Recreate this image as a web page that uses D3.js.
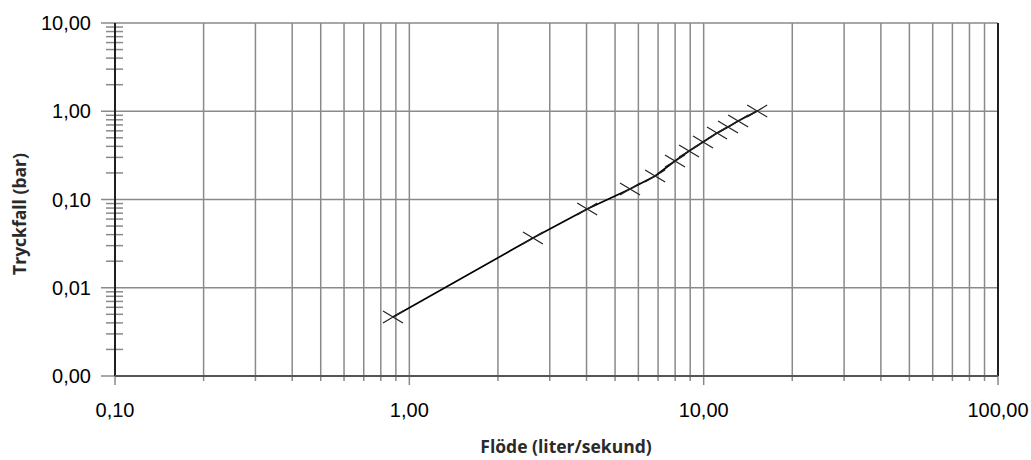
<!DOCTYPE html>
<html>
<head>
<meta charset="utf-8">
<script src="https://cdn.jsdelivr.net/npm/d3@7"></script>
<style>
  html, body { margin: 0; padding: 0; background: #fff; }
  svg { display: block; }
</style>
</head>
<body>
<script>
// Data läst från diagrammet
const flow = [0.88, 2.63, 4.02, 5.62, 6.84, 7.99, 8.92, 9.95, 11.1, 12.1, 13.1, 15.2];
const pressureDrop = [0.00466, 0.0366, 0.078, 0.1316, 0.1846, 0.273, 0.354, 0.448, 0.567, 0.663, 0.775, 1.006];

const xTickValues = [0.1, 1, 10, 100];
const xTickLabels = ["0,10", "1,00", "10,00", "100,00"];
const yTickValues = [0.001, 0.01, 0.1, 1, 10];
const yTickLabels = ["0,00", "0,01", "0,10", "1,00", "10,00"];

const xTitle = "Flöde (liter/sekund)";
const yTitle = "Tryckfall (bar)";

const width = 1031;
const height = 460;
const margin = { left: 115, right: 33, top: 23, bottom: 84 };
const chartWidth = width - margin.left - margin.right;
const chartHeight = height - margin.top - margin.bottom;

const gridColor = "#8a8a8a";

const svg = d3.select("body")
  .append("svg")
  .attr("width", width)
  .attr("height", height);

const g = svg.append("g")
  .attr("transform", `translate(${margin.left}, ${margin.top})`);

const xScale = d3.scaleLog()
  .domain([xTickValues[0], xTickValues[xTickValues.length - 1]])
  .range([0, chartWidth]);

const yScale = d3.scaleLog()
  .domain([yTickValues[0], yTickValues[yTickValues.length - 1]])
  .range([chartHeight, 0]);

// alla tiopotenser + mellanliggande steg 2..9
const xAllTicks = xScale.ticks();
const yAllTicks = yScale.ticks();
const isMajor = (list, v) => list.some(t => Math.abs(t - v) / t < 1e-6);
const yMinor = yAllTicks.filter(v => !isMajor(yTickValues, v));

// Vertikala rutnätslinjer
g.append("g")
  .selectAll("line")
  .data(xAllTicks)
  .enter()
  .append("line")
  .attr("x1", d => xScale(d))
  .attr("x2", d => xScale(d))
  .attr("y1", 0)
  .attr("y2", chartHeight)
  .attr("stroke", gridColor)
  .attr("stroke-width", 1.5);

// Horisontella rutnätslinjer (bara tiopotenser)
g.append("g")
  .selectAll("line")
  .data(yTickValues)
  .enter()
  .append("line")
  .attr("x1", -14)
  .attr("x2", chartWidth)
  .attr("y1", d => yScale(d))
  .attr("y2", d => yScale(d))
  .attr("stroke", gridColor)
  .attr("stroke-width", 1.5);

// Små streck på y-axeln
g.append("g")
  .selectAll("line")
  .data(yMinor)
  .enter()
  .append("line")
  .attr("x1", -9)
  .attr("x2", 8)
  .attr("y1", d => yScale(d))
  .attr("y2", d => yScale(d))
  .attr("stroke", gridColor)
  .attr("stroke-width", 1.5);

// Streck under x-axeln
g.append("g")
  .selectAll("line")
  .data(xAllTicks)
  .enter()
  .append("line")
  .attr("x1", d => xScale(d))
  .attr("x2", d => xScale(d))
  .attr("y1", chartHeight)
  .attr("y2", d => chartHeight + (isMajor(xTickValues, d) ? 9 : 5))
  .attr("stroke", gridColor)
  .attr("stroke-width", 1.5);

// Axellinjer
g.append("line")
  .attr("x1", 0).attr("x2", 0)
  .attr("y1", 0).attr("y2", chartHeight)
  .attr("stroke", "#111").attr("stroke-width", 1.8);
g.append("line")
  .attr("x1", chartWidth).attr("x2", chartWidth)
  .attr("y1", 0).attr("y2", chartHeight)
  .attr("stroke", "#111").attr("stroke-width", 1.8);
g.append("line")
  .attr("x1", 0).attr("x2", chartWidth)
  .attr("y1", chartHeight).attr("y2", chartHeight)
  .attr("stroke", "#555").attr("stroke-width", 1.8);

// Etiketter
g.append("g")
  .selectAll("text")
  .data(xTickValues)
  .enter()
  .append("text")
  .attr("x", d => xScale(d))
  .attr("y", chartHeight + 41)
  .attr("text-anchor", "middle")
  .attr("font-family", "Liberation Sans, Arial, sans-serif")
  .attr("font-size", 20)
  .attr("fill", "#000")
  .text((d, i) => xTickLabels[i]);

g.append("g")
  .selectAll("text")
  .data(yTickValues)
  .enter()
  .append("text")
  .attr("x", -24)
  .attr("y", d => yScale(d) + 7)
  .attr("text-anchor", "end")
  .attr("font-family", "Liberation Sans, Arial, sans-serif")
  .attr("font-size", 20)
  .attr("fill", "#000")
  .text((d, i) => yTickLabels[i]);

// Axeltitlar
svg.append("text")
  .attr("x", 566)
  .attr("y", 453)
  .attr("text-anchor", "middle")
  .attr("font-family", "Open Sans, sans-serif")
  .attr("font-weight", "bold")
  .attr("font-size", 17.5)
  .attr("fill", "#2a2a2a")
  .text(xTitle);

svg.append("text")
  .attr("transform", "translate(26, 214) rotate(-90)")
  .attr("text-anchor", "middle")
  .attr("font-family", "Open Sans, sans-serif")
  .attr("font-weight", "bold")
  .attr("font-size", 17.5)
  .attr("fill", "#2a2a2a")
  .text(yTitle);

// Kurvan
const points = flow.map((f, i) => ({ x: f, y: pressureDrop[i] }));

const line = d3.line()
  .x(d => xScale(d.x))
  .y(d => yScale(d.y));

g.append("path")
  .datum(points)
  .attr("d", line)
  .attr("fill", "none")
  .attr("stroke", "#000")
  .attr("stroke-width", 1.7);

// Markörer (flata kryss)
g.append("g")
  .selectAll("path")
  .data(points)
  .enter()
  .append("path")
  .attr("transform", d => `translate(${xScale(d.x)}, ${yScale(d.y)})`)
  .attr("d", "M-10,-6L10,6M-10,6L10,-6")
  .attr("stroke", "#222")
  .attr("stroke-width", 1.2)
  .attr("fill", "none");
</script>
</body>
</html>
